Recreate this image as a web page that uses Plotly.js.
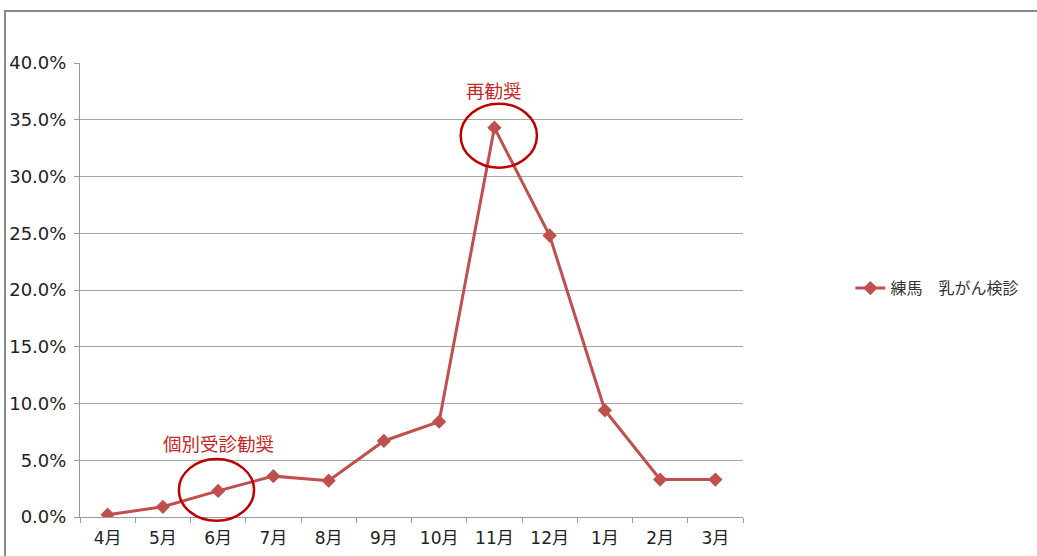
<!DOCTYPE html>
<html>
<head>
<meta charset="utf-8">
<script src="https://cdn.plot.ly/plotly-3.0.1.min.js"></script>
<style>
  html, body { margin: 0; padding: 0; background: #fff; }
  #frame {
    position: absolute; left: 0; top: 0; width: 1037px; height: 556px;
    overflow: hidden;
  }
  #border {
    position: absolute; left: 4px; top: 10px; width: 1040px; height: 560px;
    border-left: 2px solid #8a8a8a; border-top: 2px solid #8a8a8a;
    box-sizing: border-box; pointer-events: none;
  }
  #chart { position: absolute; left: 0; top: 0; width: 1037px; height: 556px; }
</style>
</head>
<body>
<div id="frame">
  <div id="chart"></div>
  <div id="border"></div>
</div>
<script>
// 月別の受診率（練馬 乳がん検診）
const months = ['4月', '5月', '6月', '7月', '8月', '9月', '10月', '11月', '12月', '1月', '2月', '3月'];
const rates = [0.002, 0.009, 0.023, 0.036, 0.032, 0.067, 0.084, 0.343, 0.248, 0.094, 0.033, 0.033];
const seriesName = '練馬　乳がん検診';
const notes = [
  { month: '6月', text: '個別受診勧奨' },
  { month: '11月', text: '再勧奨' }
];

const red = '#c0504d';
const noteRed = '#c62828';
const ringRed = '#c00000';
const font = '"DejaVu Sans", "Noto Sans CJK JP", sans-serif';
const cjkFont = '"Noto Sans CJK JP", "Noto Sans", sans-serif';
const yMax = 0.4;

const trace = {
  x: months,
  y: rates,
  name: seriesName,
  type: 'scatter',
  mode: 'lines+markers',
  line: { color: red, width: 3 },
  marker: { symbol: 'diamond', size: 11, color: red },
  showlegend: true,
  hoverinfo: 'x+y'
};

// ring around each noted month, sized in category / paper units
function ring(month, value, dxLeft, dxRight, dyLow, dyHigh) {
  const i = months.indexOf(month);
  return {
    type: 'circle', xref: 'x', yref: 'paper',
    x0: i + dxLeft, x1: i + dxRight,
    y0: value / yMax + dyLow, y1: value / yMax + dyHigh,
    line: { color: ringRed, width: 2.5 }
  };
}

const shapes = [
  ring('6月', rates[2], -0.71, 0.65, -0.066, 0.07),
  ring('11月', rates[7], -0.61, 0.77, -0.088, 0.053)
];

const annotations = [
  { x: notes[0].month, y: 0.0656, text: notes[0].text },
  { x: notes[1].month, y: 0.3758, text: notes[1].text }
].map(a => Object.assign({
  xref: 'x', yref: 'y', showarrow: false,
  xanchor: 'center', yanchor: 'middle',
  font: { family: cjkFont, size: 18.5, color: noteRed }
}, a));

const layout = {
  width: 1037, height: 556,
  margin: { l: 80, r: 294, t: 63, b: 39, pad: 0 },
  paper_bgcolor: '#fff', plot_bgcolor: '#fff',
  font: { family: font, color: '#222' },
  showlegend: true,
  legend: {
    x: 1.162, y: 0.504, xanchor: 'left', yanchor: 'middle',
    font: { family: cjkFont, size: 16, color: '#333' },
    bgcolor: 'rgba(0,0,0,0)'
  },
  xaxis: {
    type: 'category',
    categoryorder: 'array', categoryarray: months,
    range: [-0.5, months.length - 0.5],
    showgrid: false,
    showline: true, linecolor: '#9a9a9a', linewidth: 1,
    ticks: 'outside', tickson: 'boundaries', ticklen: 5, tickcolor: '#9a9a9a',
    ticklabelstandoff: 6,
    tickfont: { family: font, size: 17, color: '#222' },
    fixedrange: true
  },
  yaxis: {
    range: [0, yMax],
    dtick: 0.05, tick0: 0,
    tickformat: '.1%',
    showgrid: true, gridcolor: '#a6a6a6', gridwidth: 1,
    zeroline: false,
    showline: true, linecolor: '#9a9a9a', linewidth: 1,
    ticks: 'outside', ticklen: 5, tickcolor: '#9a9a9a',
    ticklabelstandoff: 4,
    tickfont: { family: font, size: 18, color: '#222' },
    fixedrange: true
  },
  shapes: shapes,
  annotations: annotations
};

Plotly.newPlot('chart', [trace], layout, { displayModeBar: false, staticPlot: true });
</script>
</body>
</html>
